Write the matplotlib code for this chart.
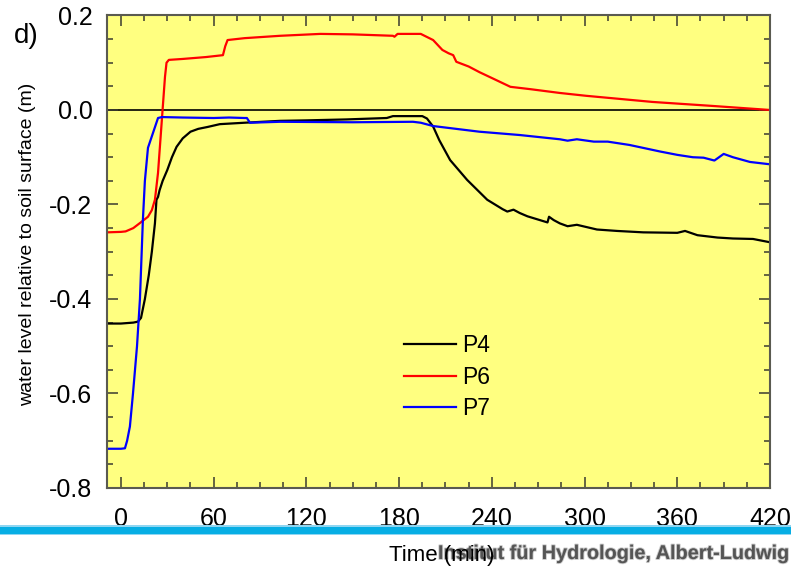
import matplotlib
matplotlib.use("Agg")
import matplotlib.pyplot as plt
import matplotlib.patheffects as pe
from matplotlib.patches import Rectangle
from matplotlib.ticker import MultipleLocator

plt.rcParams['font.family'] = ['Liberation Sans', 'DejaVu Sans']

# Piezometer water levels (m, relative to soil surface) against time (min)
p4_t = [-9, 0, 8, 11, 13, 15.5, 18, 20, 22, 23, 24, 25, 27, 30, 33, 36, 40, 45, 50, 56, 64,
        80, 103, 120, 146, 172, 176, 185, 195, 198, 202, 206, 213, 224, 237, 247, 250, 254,
        258, 263, 270, 276, 277, 280, 284, 289, 295, 308, 321, 338, 360, 365, 373, 386, 396,
        409, 420]
p4_v = [-0.452, -0.452, -0.450, -0.448, -0.44, -0.40, -0.35, -0.30, -0.24, -0.19, -0.184,
        -0.17, -0.15, -0.127, -0.10, -0.078, -0.060, -0.046, -0.040, -0.036, -0.030, -0.027,
        -0.023, -0.022, -0.020, -0.017, -0.013, -0.013, -0.013, -0.018, -0.035, -0.064,
        -0.106, -0.148, -0.19, -0.21, -0.215, -0.211, -0.218, -0.225, -0.232, -0.238, -0.226,
        -0.233, -0.240, -0.246, -0.243, -0.253, -0.256, -0.259, -0.260, -0.256, -0.265,
        -0.270, -0.272, -0.273, -0.280]

p6_t = [-9, 0, 3, 8, 12, 17.5, 20, 22, 24, 26.5, 28.5, 29.5, 31, 40, 55, 66, 67.5, 69, 80,
        103, 129, 150, 176, 177, 179, 181, 194, 202, 208, 212, 215, 217, 225, 232, 243, 252,
        265, 284, 301, 344, 383, 420]
p6_v = [-0.259, -0.258, -0.257, -0.25, -0.24, -0.226, -0.212, -0.19, -0.133, -0.02, 0.07,
        0.10, 0.106, 0.108, 0.112, 0.116, 0.135, 0.148, 0.152, 0.157, 0.161, 0.160, 0.157,
        0.155, 0.161, 0.161, 0.161, 0.148, 0.127, 0.12, 0.116, 0.102, 0.092, 0.080, 0.063,
        0.049, 0.044, 0.036, 0.030, 0.017, 0.0085, 0.0]

p7_t = [-9, 0, 2.6, 4, 5.8, 7.8, 10.4, 12.3, 14.2, 15.5, 17.5, 20.7, 24, 26.5, 40, 60, 70,
        80, 81.5, 83.5, 103, 150, 189, 194, 202, 232, 258, 284, 289, 295, 306, 315, 329,
        349, 360, 370, 377, 384, 390, 396, 407, 420]
p7_v = [-0.717, -0.717, -0.716, -0.70, -0.67, -0.60, -0.50, -0.40, -0.233, -0.15, -0.08,
        -0.049, -0.017, -0.015, -0.016, -0.017, -0.016, -0.017, -0.017, -0.027, -0.025,
        -0.026, -0.025, -0.027, -0.034, -0.046, -0.053, -0.062, -0.065, -0.062, -0.067,
        -0.067, -0.074, -0.088, -0.095, -0.100, -0.101, -0.107, -0.093, -0.100, -0.110,
        -0.115]

x_ticks = [0, 60, 120, 180, 240, 300, 360, 420]
y_ticks = [-0.8, -0.6, -0.4, -0.2, 0.0, 0.2]

fig = plt.figure(figsize=(7.91, 5.71), dpi=100)
ax = fig.add_axes([0.1353, 0.1454, 0.8382, 0.8275])
ax.set_facecolor('#ffff80')

ax.axhline(0, color='black', lw=1.2, zorder=1)
ax.plot(p4_t, p4_v, color='black', lw=1.6, label='P4')
ax.plot(p6_t, p6_v, color='#ff0000', lw=1.6, label='P6')
ax.plot(p7_t, p7_v, color='#0000ff', lw=1.6, label='P7')

ax.set_xlim(-9, 420)
ax.set_ylim(-0.8, 0.2)
ax.set_xticks(x_ticks)
ax.set_yticks(y_ticks)
ax.set_yticklabels([f'{v:.1f}' for v in y_ticks])
ax.xaxis.set_minor_locator(MultipleLocator(15))
ax.yaxis.set_minor_locator(MultipleLocator(0.05))

for s in ax.spines.values():
    s.set_color('#5a5a50')
    s.set_linewidth(1.5)
ax.tick_params(which='both', direction='in', top=True, right=True,
               color='#3a3a30', width=1.1, labelsize=18)
ax.tick_params(which='major', length=8)
ax.tick_params(which='minor', length=4)
ax.tick_params(axis='x', pad=13.5)
ax.tick_params(axis='y', pad=10.5)

leg = ax.legend(loc='upper left', bbox_to_anchor=(404 / 791, 1 - 334 / 571),
                bbox_transform=fig.transFigure, frameon=False, fontsize=16.5,
                handlelength=2.25, handletextpad=0.3, labelspacing=0.38,
                borderpad=0, borderaxespad=0)

fig.text(28 / 791, 1 - 244 / 571, 'water level relative to soil surface (m)',
         rotation=90, ha='center', va='center', fontsize=14)
fig.text(14 / 791, 1 - 43 / 571, 'd)', fontsize=20, ha='left', va='baseline')

# slide footer: blue band and institute name
fig.patches.append(Rectangle((0, 1 - 535 / 571), 1, 10 / 571, transform=fig.transFigure,
                             facecolor='#07aee4', edgecolor='none', zorder=0))
fig.patches.append(Rectangle((0, 1 - 526.5 / 571), 1, 1.5 / 571, transform=fig.transFigure,
                             facecolor='#8fd6f2', edgecolor='none', zorder=0))
fig.patches.append(Rectangle((0, 1 - 535 / 571), 1, 1.5 / 571, transform=fig.transFigure,
                             facecolor='#8fd6f2', edgecolor='none', zorder=0))

fig.text(438 / 791, 1 - 559 / 571, 'Institut für Hydrologie, Albert-Ludwig',
         fontsize=14.3, fontweight='bold', color='#555555', ha='left', va='baseline',
         path_effects=[pe.withStroke(linewidth=1.4, foreground='#a8a8a8', alpha=0.6)])
fig.text(442 / 791, 1 - 561 / 571, 'Time (min)', fontsize=16, ha='center', va='baseline')

fig.savefig('out.png', dpi=100)
